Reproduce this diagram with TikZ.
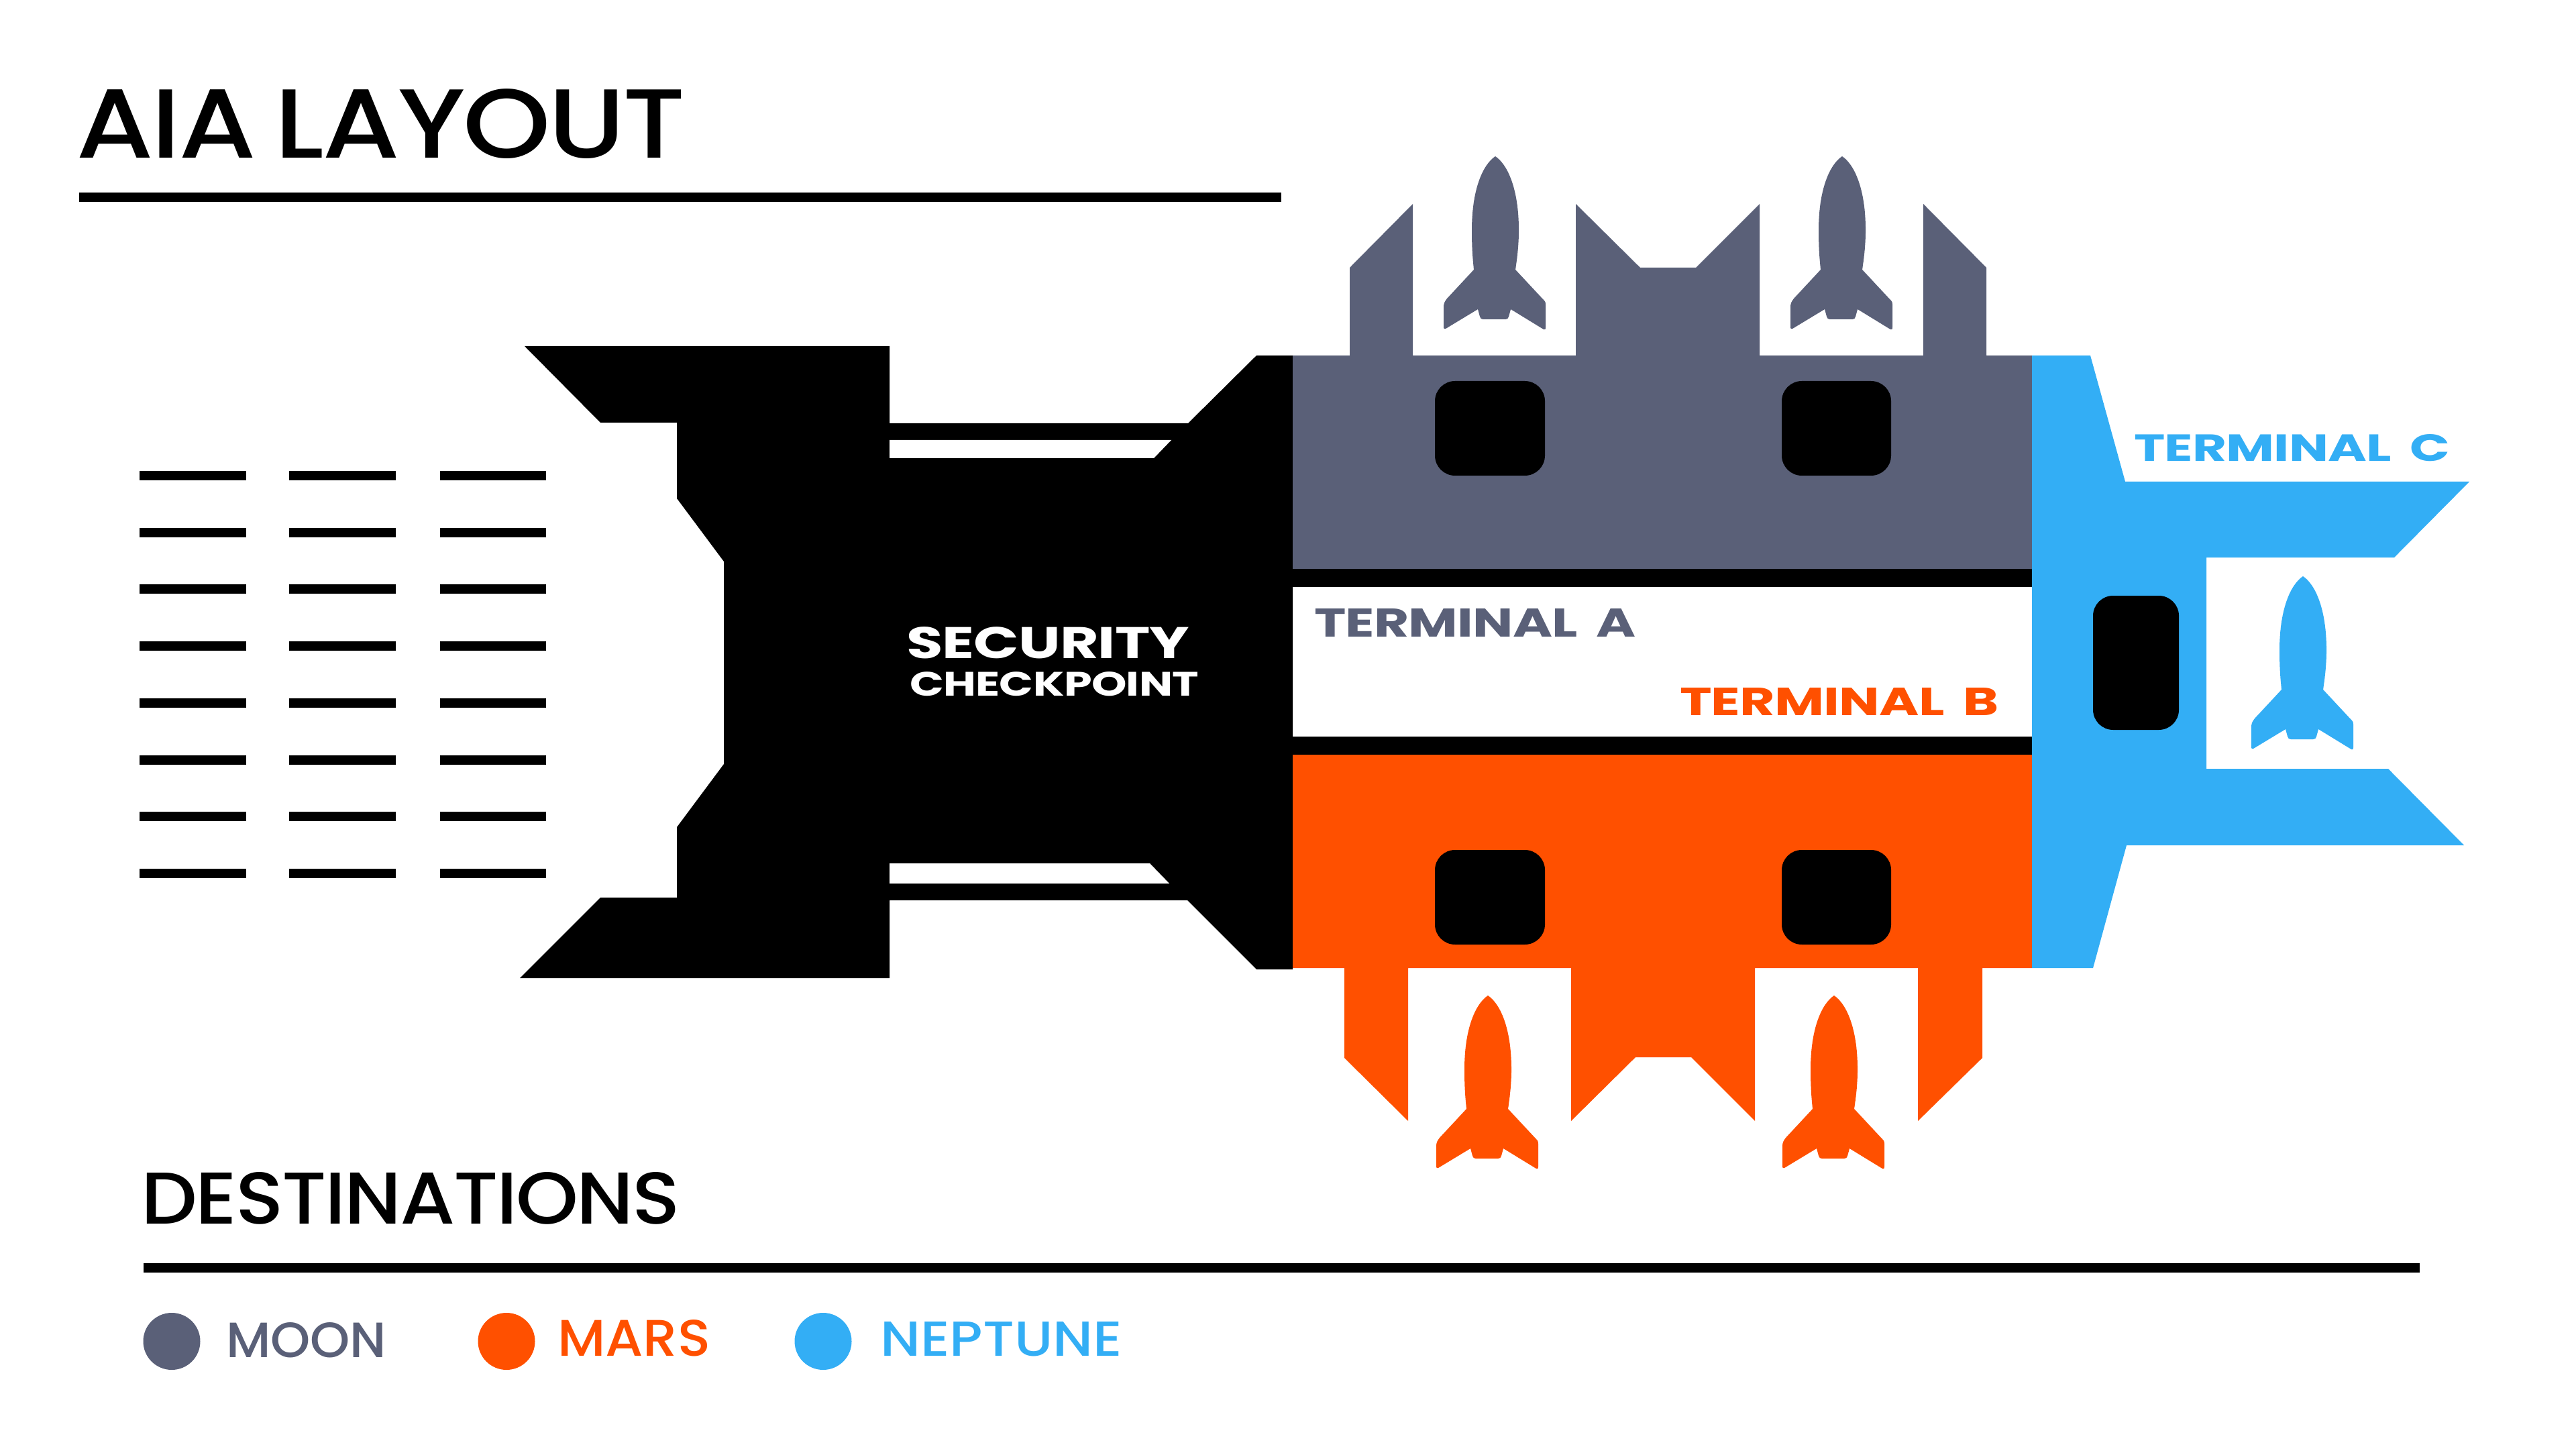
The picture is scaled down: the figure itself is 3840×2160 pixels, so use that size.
\documentclass[tikz,border=0pt]{standalone}
\usepackage{graphicx}
\usepackage{fontspec}
\setmainfont{Poppins}
\newfontfamily\headfont[LetterSpace=-2,WordSpace=0.7]{Poppins Medium}
\newfontfamily\legendfont{Poppins Medium}
\newfontfamily\techfont[LetterSpace=-1]{Poppins Bold}
\definecolor{moon}{HTML}{5A6078}
\definecolor{mars}{HTML}{FF5000}
\definecolor{neptune}{HTML}{33AEF5}
\newcommand{\fit}[3]{\resizebox{\dimexpr #1pt/4\relax}{\dimexpr #2pt/4\relax}{#3}}
\tikzset{
  x=0.25pt,y=-0.25pt,
  txt/.style={anchor=base west,inner sep=0pt,outer sep=0pt},
  gate/.style={fill=black,rounded corners=7.5pt},
  rule/.style={fill=black},
  dot/.style={circle,inner sep=0pt,minimum size=21.25pt},
  rocket/.pic={
    \fill[pic actions] (0,0) .. controls (18,12) and (35,48) .. (35,110)
      .. controls (35,135) and (32,155) .. (30,169)
      -- (71,213) .. controls (74,216) and (75,217) .. (75,221)
      -- (75,255) .. controls (75,258) and (74,259) .. (72,258)
      -- (23,228) -- (20,239) .. controls (19,242) and (18,243) .. (15,243)
      -- (-18,243) .. controls (-21,243) and (-22,242) .. (-23,239)
      -- (-26,228) -- (-74,257) .. controls (-76,258) and (-77,257) .. (-77,254)
      -- (-77,224) .. controls (-77,219) and (-75,216) .. (-72,212)
      -- (-32,169) .. controls (-34,150) and (-35,135) .. (-35,110)
      .. controls (-35,48) and (-18,12) .. (0,0) -- cycle;
  }
}
\begin{document}
\begin{tikzpicture}
\useasboundingbox (0,0) rectangle (3840,2160);
\fill[white] (0,0) rectangle (3840,2160);

% rules
\fill[rule] (118,287) rectangle (1910,301);
\fill[rule] (214,1883) rectangle (3607,1897);

% waiting lines
\foreach \yy in {709,793.5,878,963,1047.5,1132.5,1217,1302}{
  \fill[black] (207.5,\yy-7) rectangle (366.5,\yy+7);
  \fill[black] (431,\yy-7) rectangle (590,\yy+7);
  \fill[black] (655.5,\yy-7) rectangle (814,\yy+7);
}

% security
\fill[black] (782,516) -- (1326,516) -- (1326,631) -- (1771,631) -- (1873,530) -- (1927,530)
  -- (1927,1445) -- (1873,1445) -- (1770,1342) -- (1326,1342) -- (1326,1458) -- (775,1458)
  -- (895,1338) -- (1009,1338) -- (1009,1233) -- (1079,1139) -- (1079,837) -- (1009,743)
  -- (1009,630) -- (895,630) -- cycle;
\fill[white] (1326,656) -- (1746,656) -- (1720,683) -- (1326,683) -- cycle;
\fill[white] (1326,1287) -- (1714,1287) -- (1743,1317) -- (1326,1317) -- cycle;

% terminal A
\fill[moon] (1927,530) -- (2012,530) -- (2012,399) -- (2106,304) -- (2106,530) -- (2349,530)
  -- (2349,304) -- (2445,399) -- (2528,399) -- (2623,304) -- (2623,530) -- (2867,530)
  -- (2867,304) -- (2961,399) -- (2961,530) -- (3029,530) -- (3029,848) -- (1927,848) -- cycle;
\fill[black] (1927,848) rectangle (3029,875);
\fill[black] (1927,1098) rectangle (3029,1125);

% terminal B
\fill[mars] (1927,1125) -- (3029,1125) -- (3029,1443) -- (2955,1443) -- (2955,1577) -- (2859,1671)
  -- (2859,1443) -- (2616,1443) -- (2616,1671) -- (2521,1576) -- (2438,1576) -- (2342,1671)
  -- (2342,1443) -- (2099,1443) -- (2099,1671) -- (2004,1577) -- (2004,1443) -- (1927,1443) -- cycle;

% terminal C
\fill[neptune] (3029,530) -- (3116,530) -- (3168,718) -- (3681,718) -- (3569,831) -- (3289,831)
  -- (3289,1146) -- (3560,1146) -- (3673,1260) -- (3170,1260) -- (3120,1443) -- (3029,1443) -- cycle;

% gates
\fill[gate] (2139,568) rectangle (2303,709);
\fill[gate] (2656,568) rectangle (2819,709);
\fill[gate] (2139,1267) rectangle (2303,1408);
\fill[gate] (2656,1267) rectangle (2819,1408);
\fill[gate] (3120,888) rectangle (3248,1088);

% rockets
\pic[fill=moon] at (2229,233) {rocket};
\pic[fill=moon] at (2746,233) {rocket};
\pic[fill=mars] at (2218,1484) {rocket};
\pic[fill=mars] at (2734,1484) {rocket};
\pic[fill=neptune] at (3433,859) {rocket};

% text
\node[txt] (title) at (113,236) {\headfont\fit{909}{103}{AIA LAYOUT}};
\node[txt] (dest) at (210,1824) {\headfont\fit{804}{77}{DESTINATIONS}};
\node[txt,text=white] (sec) at (1351,981) {\techfont\fit{422}{47}{SECURITY}};
\node[txt,text=white] (chk) at (1356,1037) {\techfont\fit{431}{36}{CHECKPOINT}};
\node[txt,text=moon] (ta) at (1959,949) {\techfont\fit{480}{42}{TERMINAL\hspace{.35em}A}};
\node[txt,text=mars] (tb) at (2504,1066) {\techfont\fit{476}{41}{TERMINAL\hspace{.35em}B}};
\node[txt,text=neptune] (tc) at (3181,688) {\techfont\fit{471}{40}{TERMINAL\hspace{.35em}C}};

\node[dot,fill=moon] (d1) at (256,1999.5) {};
\node[dot,fill=mars] (d2) at (755,1999.5) {};
\node[dot,fill=neptune] (d3) at (1227,1999.5) {};
\node[txt,text=moon] (l1) at (337,2023) {\legendfont\fit{239}{52}{MOON}};
\node[txt,text=mars] (l2) at (831,2021) {\legendfont\fit{228}{54}{MARS}};
\node[txt,text=neptune] (l3) at (1312,2021) {\legendfont\fit{361}{51}{NEPTUNE}};
\end{tikzpicture}
\end{document}
